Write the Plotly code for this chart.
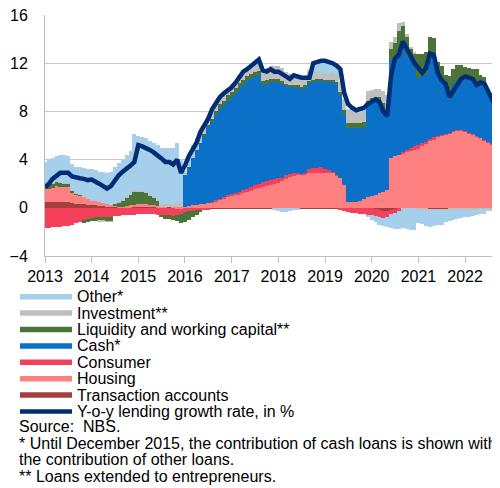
import pandas as pd
import plotly.graph_objects as go

# Monthly contributions to y-o-y lending growth, Jan 2013 - Oct 2022 (pp)
months = pd.date_range("2013-01-01", periods=118, freq="MS")
year_ticks = pd.date_range("2013-01-01", periods=10, freq="YS")
year_labels = [str(d.year) for d in year_ticks]

transaction = [
    0.45, 0.45, 0.45, 0.5, 0.45, 0.45, 0.5, 0.4, 0.35, 0.3, 0.3, 0.25,  # 2013
    0.2, 0.2, 0.15, 0.15, 0.1, 0.1, 0.1, 0.05, 0.05, 0.05, 0.05, 0.05,  # 2014
    0.03, 0.03, 0.03, 0.03, 0.03, 0.03, 0.03, 0.03, 0.03, 0.03, 0.03, 0.03,  # 2015
    -0.05, -0.05, -0.05, -0.05, -0.05, -0.05, -0.05, -0.05, -0.05, -0.05, -0.05, -0.05,  # 2016
    -0.05, -0.05, -0.05, -0.05, -0.05, -0.05, -0.05, -0.05, -0.05, -0.05, -0.05, -0.05,  # 2017
    -0.05, -0.05, -0.05, -0.05, -0.05, -0.05, -0.05, -0.05, -0.05, -0.05, -0.05, -0.05,  # 2018
    -0.05, -0.05, -0.05, -0.05, -0.05, -0.05, -0.05, -0.05, -0.05, -0.05, -0.05, -0.05,  # 2019
    -0.05, -0.1, -0.2, -0.3, -0.3, -0.2, -0.1, -0.05, -0.05, -0.05, -0.05, -0.05,  # 2020
    -0.05, -0.05, -0.05, -0.1, -0.1, -0.1, -0.1, -0.1, -0.05, -0.05, -0.05, -0.05,  # 2021
    -0.05, -0.05, -0.05, -0.05, -0.05, -0.05, -0.05, -0.05, -0.05, -0.05,  # 2022
]
housing = [
    1.15, 1.15, 1.2, 1.3, 1.3, 1.3, 1.25, 0.9, 0.75, 0.7, 0.6, 0.5,
    0.4, 0.35, 0.3, 0.25, 0.2, 0.15, 0.1, 0.05, 0.05, 0.1, 0.15, 0.2,
    0.25, 0.25, 0.25, 0.2, 0.2, 0.15, 0.1, 0.05, 0.0, -0.05, -0.1, -0.1,
    0.1, 0.15, 0.2, 0.25, 0.3, 0.35, 0.4, 0.45, 0.55, 0.65, 0.8, 0.9,
    1.0, 1.05, 1.1, 1.2, 1.3, 1.4, 1.55, 1.65, 1.75, 1.8, 1.9, 2.0,
    2.1, 2.2, 2.4, 2.55, 2.65, 2.75, 2.75, 2.8, 2.9, 2.9, 2.9, 2.9,
    2.9, 2.9, 2.9, 2.7, 2.5, 1.9, 0.45, 0.45, 0.5, 0.6, 0.75, 0.9,
    1.0, 1.1, 1.2, 1.35, 1.45, 4.1, 4.3, 4.4, 4.5, 4.6, 4.7, 4.8,
    4.9, 5.1, 5.3, 5.55, 5.7, 5.9, 6.0, 6.1, 6.2, 6.35, 6.4, 6.4,
    6.35, 6.2, 6.1, 5.9, 5.8, 5.6, 5.4, 5.25, 5.1, 5.0,
]
consumer = [
    -1.65, -1.65, -1.6, -1.6, -1.6, -1.55, -1.5, -1.4, -1.3, -1.2, -1.05, -0.95,
    -0.85, -0.8, -0.75, -0.75, -0.75, -0.8, -0.7, -0.65, -0.6, -0.6, -0.6, -0.6,
    -0.5, -0.5, -0.55, -0.55, -0.55, -0.6, -0.6, -0.6, -0.6, -0.6, -0.5, -0.45,
    -0.3, -0.25, -0.2, -0.15, -0.1, -0.1, -0.05, 0.05, 0.1, 0.1, 0.1, 0.15,
    0.15, 0.2, 0.2, 0.25, 0.3, 0.3, 0.35, 0.35, 0.4, 0.4, 0.4, 0.4,
    0.35, 0.3, 0.3, 0.25, 0.2, 0.1, 0.05, 0.1, 0.35, 0.4, 0.4, 0.45,
    0.3, 0.25, 0.1, 0.05, -0.15, -0.2, -0.3, -0.35, -0.4, -0.45, -0.5, -0.55,
    -0.55, -0.6, -0.6, -0.55, -0.5, -0.3, -0.3, -0.2, 0.1, 0.2, 0.3, 0.3,
    0.3, 0.25, 0.2, 0.2, 0.15, 0.1, 0.05, 0.02, 0.02, 0.02, 0.02, 0.02,
    0.02, 0.02, 0.02, 0.02, 0.02, 0.02, 0.02, 0.02, 0.02, 0.02,
]
cash = [
    0, 0, 0, 0, 0, 0, 0, 0, 0, 0, 0, 0,
    0, 0, 0, 0, 0, 0, 0, 0, 0, 0, 0, 0,
    0, 0, 0, 0, 0, 0, 0, 0, 0, 0, 0, 0,
    2.7, 3.25, 3.9, 4.55, 5.1, 5.65, 6.3, 6.6, 7.05, 7.45, 7.6, 7.85,
    8.05, 8.25, 8.6, 8.75, 8.9, 9.0, 9.0, 9.0, 8.05, 8.1, 8.1, 8.0,
    7.95, 7.8, 7.4, 7.2, 7.15, 7.15, 7.1, 7.1, 7.15, 7.1, 7.2, 7.15,
    7.2, 7.25, 7.4, 7.45, 6.9, 5.9, 6.15, 6.15, 6.1, 6.0, 5.95, 7.7,
    7.8, 7.8, 7.7, 6.95, 6.15, 8.2, 8.2, 8.4, 9.1, 7.8, 7.5, 6.5,
    5.6, 5.55, 5.5, 6.95, 6.55, 4.9, 4.45, 4.1, 3.3, 3.95, 4.1, 4.4,
    4.45, 4.6, 4.6, 4.6, 4.6, 4.7, 4.2, 3.85, 3.3, 2.7,
]
liquidity = [
    0.2, 0.3, 0.35, 0.35, 0.35, 0.3, 0.25, 0.15, 0.1, 0.1, -0.2, -0.25,
    -0.25, -0.3, -0.3, -0.3, -0.35, -0.3, 0.1, 0.3, 0.5, 0.7, 0.9, 1.1,
    1.1, 1.1, 1.0, 0.8, 0.6, 0.4, -0.2, -0.3, -0.35, -0.4, -0.5, -0.7,
    -0.8, -0.7, -0.55, -0.4, -0.2, 0.1, 0.2, 0.3, 0.35, 0.4, 0.4, 0.45,
    0.45, 0.45, 0.45, 0.4, 0.4, 0.4, 0.35, 0.35, 0.3, 0.3, 0.3, 0.3,
    0.25, 0.2, 0.2, 0.2, 0.2, 0.15, 0.15, 0.15, 0.15, 0.2, 0.2, 0.2,
    0.2, 0.2, 0.2, 0.2, 0.2, 0.3, 0.4, 0.4, 0.4, 0.4, 0.4, 0.3,
    0.3, 0.3, 0.3, 0.4, 0.5, 0.9, 1.2, 1.9, 1.4, 1.6, 0.7, 1.2,
    2.0, 1.9, 1.9, 1.5, 1.7, 1.2, 1.3, 0.8, 1.4, 1.2, 1.3, 1.0,
    0.9, 0.8, 0.8, 1.0, 0.6, 0.5, 0.2, 0.2, 0.1, 0.1,
]
investment = [
    0.05, 0.05, 0.05, 0.05, 0.05, 0.05, 0.05, 0.05, 0.05, 0.05, 0.0, 0.0,
    0.0, 0.0, -0.05, -0.05, -0.05, -0.05, 0.0, 0.05, 0.05, 0.05, 0.05, 0.05,
    0.05, 0.05, 0.05, 0.05, 0.1, 0.1, 0.15, 0.2, 0.25, 0.3, 0.4, 0.5,
    0.1, 0.15, 0.2, 0.3, 0.4, 0.5, 0.5, 0.5, 0.6, 0.6, 0.6, 0.6,
    0.6, 0.6, 0.65, 0.7, 0.7, 0.7, 0.75, 0.8, 0.9, 1.0, 1.1, 1.1,
    1.1, 1.1, 1.0, 0.9, 0.9, 0.8, 0.8, 0.8, 0.7, 0.7, 0.6, 0.5,
    0.5, 0.5, 0.6, 0.6, 0.7, 0.8, 1.0, 1.0, 0.9, 0.9, 1.0, 0.8,
    0.7, 0.7, 0.7, 1.0, 1.3, 0.6, 0.5, 0.6, 0.3, 0.2, 0.1, 0.05,
    -0.1, -0.1, -0.1, -0.1, -0.1, -0.1, -0.1, -0.1, -0.1, -0.1, -0.1, -0.1,
    -0.1, -0.1, -0.1, -0.1, -0.05, -0.05, -0.05, -0.05, -0.05, -0.05,
]
other = [
    1.95, 2.05, 2.05, 2.1, 2.25, 2.3, 2.25, 2.1, 2.15, 2.25, 2.4, 2.45,
    2.6, 2.55, 2.55, 2.6, 2.6, 2.75, 3.1, 3.25, 3.35, 3.5, 3.55, 4.7,
    4.55, 4.45, 4.45, 4.5, 4.45, 4.5, 4.7, 4.7, 4.7, 4.65, 4.95, 3.55,
    0.1, 0.6, 0.9, 0.7, 0.3, 0.2, 0.1, 0.1, 0.05, 0.05, 0.05, 0.0,
    0.0, 0.0, 0.0, 0.0, 0.0, 0.1, 0.1, 0.1, 0.1, 0.0, 0.0, -0.1,
    -0.2, -0.3, -0.3, -0.2, -0.1, -0.1, 0.0, 0.0, 0.2, 0.8, 0.9, 1.0,
    1.0, 0.9, 0.8, 0.7, 0.2, 0.1, 0.2, 0.2, 0.1, 0.1, 0.1, -0.2,
    -0.4, -0.5, -0.6, -0.7, -0.8, -1.2, -1.4, -1.5, -1.6, -1.7, -1.8, -1.8,
    -1.1, -1.2, -1.4, -1.4, -1.3, -1.25, -1.2, -1.0, -0.95, -0.9, -0.75, -0.7,
    -0.65, -0.6, -0.5, -0.45, -0.45, -0.4, -0.2, -0.15, -0.15, -0.15,
]
growth_rate = [
    1.7, 2.0, 2.4, 2.7, 2.9, 2.9, 2.9, 2.6, 2.5, 2.45, 2.4, 2.3,
    2.35, 2.2, 2.0, 1.8, 1.6, 1.8, 2.3, 2.7, 3.0, 3.2, 3.5, 3.8,
    5.2, 5.1, 5.0, 4.8, 4.6, 4.4, 4.1, 3.8, 3.8, 3.6, 4.0, 2.9,
    3.5, 4.3, 4.9, 5.4, 6.3, 6.8, 7.4, 8.2, 8.8, 9.2, 9.5, 9.7,
    10.0, 10.4, 10.9, 11.3, 11.5, 11.8, 12.0, 12.3, 11.4, 11.3, 11.5, 11.3,
    11.3, 11.1, 10.9, 10.7, 11.0, 10.9, 10.8, 10.8, 10.8, 12.0, 12.1, 12.2,
    12.2, 12.1, 12.0, 11.8, 11.5, 9.5, 8.6, 8.3, 8.1, 8.2, 8.3, 8.6,
    8.8, 9.0, 8.8, 8.0, 7.6, 11.0, 12.4, 12.7, 13.8, 13.2, 12.6, 12.0,
    11.6, 11.2, 11.6, 12.8, 12.7, 11.2, 10.6, 10.3, 9.2, 9.7, 10.3, 10.7,
    10.9, 10.8, 10.7, 10.2, 10.4, 10.3, 9.7, 9.0, 8.3, 7.6,
]

# stacking order from the zero line outwards
bar_series = [
    ("Transaction accounts", transaction, "#A53F3F"),
    ("Housing", housing, "#FF8080"),
    ("Consumer", consumer, "#F5405C"),
    ("Cash*", cash, "#0A70C8"),
    ("Liquidity and working capital**", liquidity, "#4A7438"),
    ("Investment**", investment, "#BFBFBF"),
    ("Other*", other, "#A6CFEC"),
]
line_name = "Y-o-y lending growth rate, in %"
line_color = "#002D74"

# The page body has an 8px margin, so the figure starts at (8, 8) on screen.
# Positions below are screen pixels; the figure is offset to compensate.
PAGE_OFFSET = 8
PLOT_L, PLOT_R, PLOT_T, PLOT_B = 45, 500, 15, 256
FIG_W, FIG_H = 500, 488


def paper_x(px):
    return (px - PLOT_L) / (PLOT_R - PLOT_L)


def paper_y(py):
    return (PLOT_B - py) / (PLOT_B - PLOT_T)


fig = go.Figure()

month_ms = 31 * 24 * 3600 * 1000
for name, values, color in bar_series:
    fig.add_trace(
        go.Bar(
            x=months,
            y=values,
            name=name,
            width=month_ms,
            marker=dict(color=color, line=dict(width=0)),
            hovertemplate=f"<b>{name}</b><br>%{{x|%b %Y}}: %{{y}}<extra></extra>",
        )
    )

fig.add_trace(
    go.Scatter(
        x=months,
        y=growth_rate,
        name=line_name,
        mode="lines",
        line=dict(color=line_color, width=4.5),
    )
)

# hand-made legend: long swatches, tight line spacing like the original
legend_items = [(n, c, 5.5) for n, _, c in reversed(bar_series)] + [
    (line_name, line_color, 4.5)
]
shapes = []
annotations = []
for i, (label, color, lw) in enumerate(legend_items):
    cy = 296.7 + 16.4 * i
    shapes.append(
        dict(
            type="line", xref="paper", yref="paper",
            x0=paper_x(20), x1=paper_x(72), y0=paper_y(cy), y1=paper_y(cy),
            line=dict(color=color, width=lw),
        )
    )
    annotations.append(
        dict(
            text=label, xref="paper", yref="paper",
            x=paper_x(75), y=paper_y(cy), xanchor="left", yanchor="middle",
            showarrow=False,
        )
    )

notes = [
    "Source:  NBS.",
    "* Until December 2015, the contribution of cash loans is shown within",
    "the contribution of other loans.",
    "** Loans extended to entrepreneurs.",
]
for i, note in enumerate(notes):
    annotations.append(
        dict(
            text=note, xref="paper", yref="paper",
            x=paper_x(17), y=paper_y(426.7 + 16.5 * i),
            xanchor="left", yanchor="middle", showarrow=False,
        )
    )

fig.update_layout(
    width=FIG_W,
    height=FIG_H,
    margin=dict(
        l=PLOT_L - PAGE_OFFSET,
        r=FIG_W + PAGE_OFFSET - PLOT_R,
        t=PLOT_T - PAGE_OFFSET,
        b=FIG_H + PAGE_OFFSET - PLOT_B,
        autoexpand=False,
    ),
    barmode="relative",
    bargap=0,
    showlegend=False,
    plot_bgcolor="white",
    paper_bgcolor="white",
    font=dict(family="Liberation Sans, Arial, sans-serif", size=16, color="black"),
    shapes=shapes,
    annotations=annotations,
)

fig.update_xaxes(
    type="date",
    range=["2013-01-01", "2022-10-01"],
    tickvals=year_ticks,
    ticktext=year_labels,
    ticks="outside",
    ticklen=6,
    tickcolor="#BFBFBF",
    showline=True,
    linecolor="#BFBFBF",
    showgrid=False,
    zeroline=False,
    automargin=False,
    ticklabeloverflow="allow",
)
fig.update_yaxes(
    range=[-4, 16],
    tickvals=[-4, 0, 4, 8, 12, 16],
    showgrid=True,
    gridcolor="#C8C8C8",
    zeroline=False,
    showline=True,
    linecolor="#BFBFBF",
    ticks="",
    ticklabelstandoff=13,
    automargin=False,
    ticklabeloverflow="allow",
)

fig.write_html("out.html")
